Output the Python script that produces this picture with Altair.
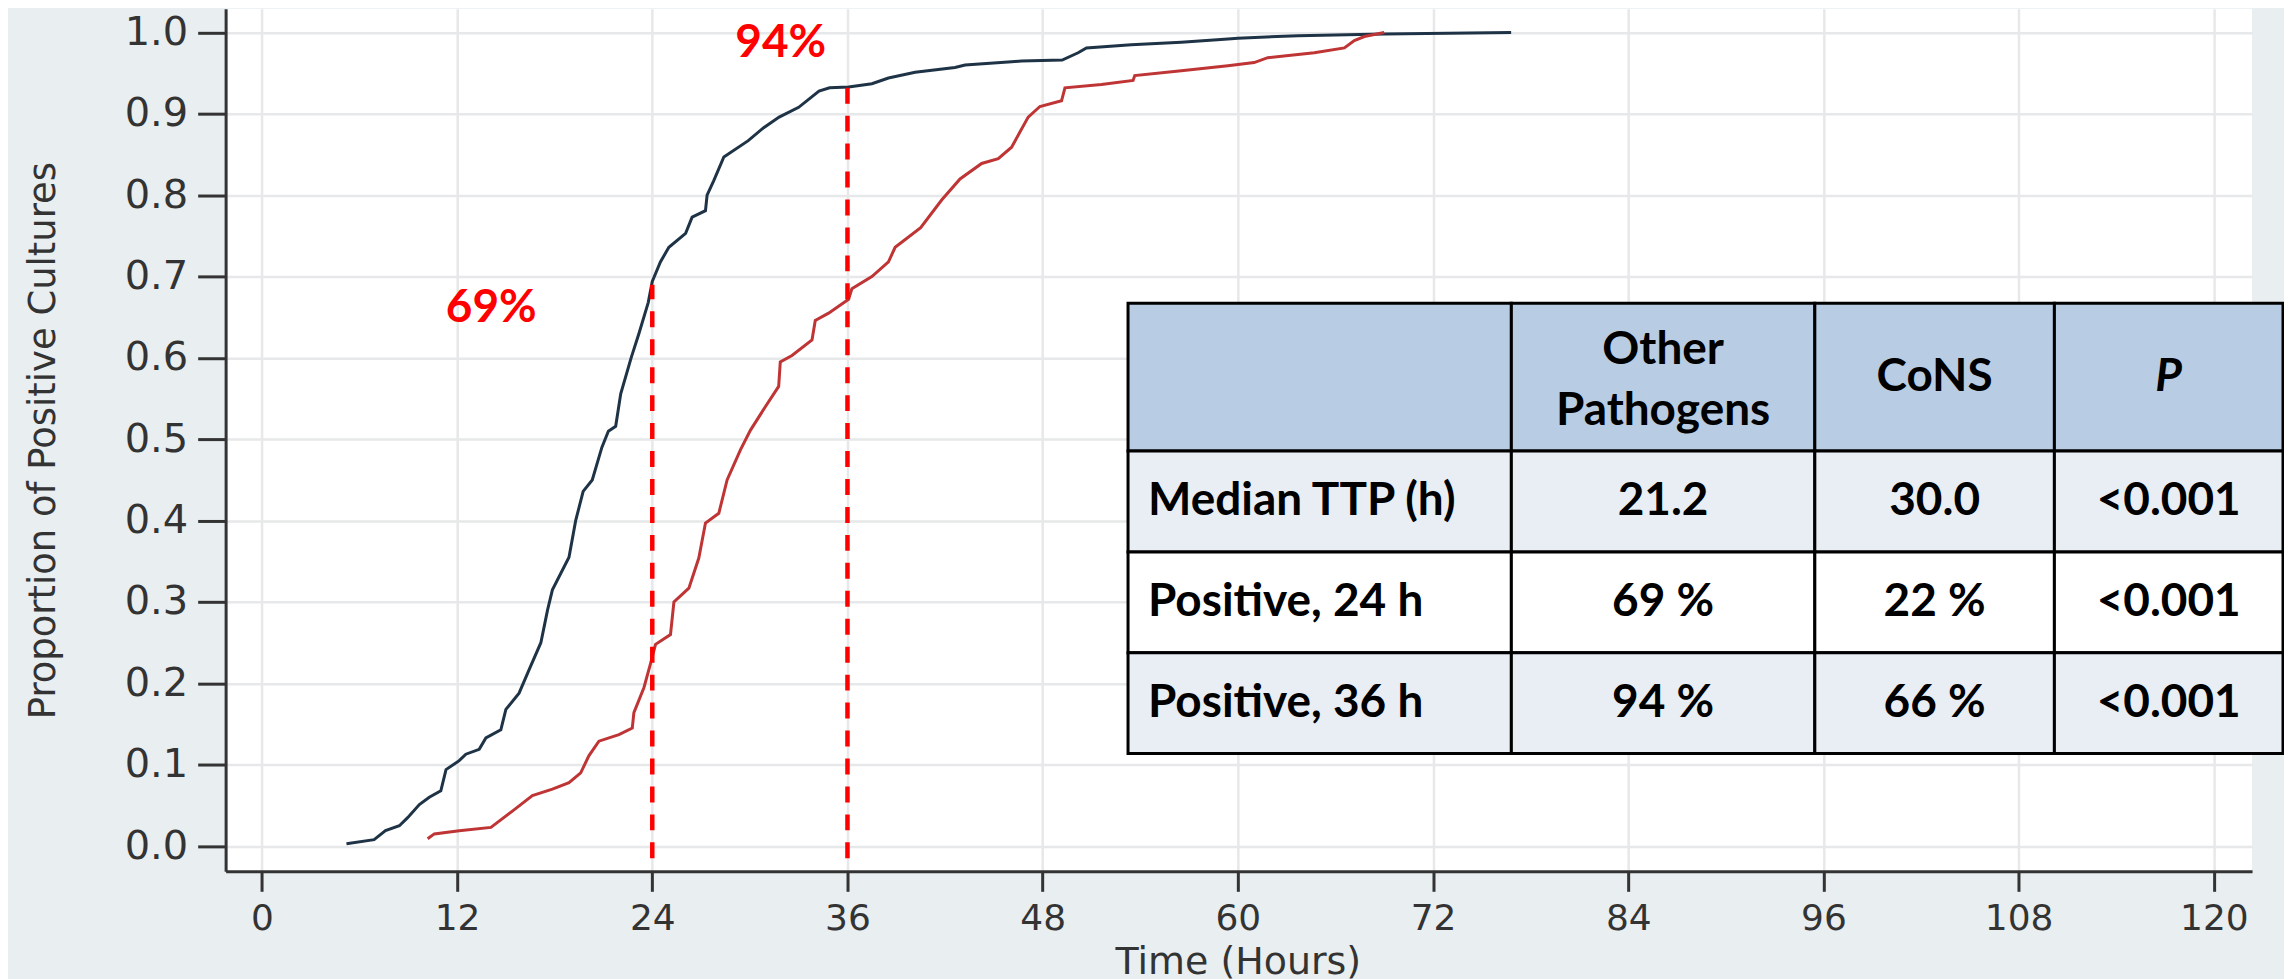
import altair as alt
import pandas as pd

# ---------------- data ----------------
series_names = ["Other Pathogens", "CoNS"]

other_h = [5.2, 6.9, 7.6, 8.45, 8.96, 9.68, 10.29, 11.0, 11.32, 12.13, 12.54, 13.36,
           13.77, 14.69, 15.0, 15.81, 16.43, 17.15, 17.56, 17.86, 18.88, 19.29, 19.75,
           20.31, 20.9, 21.3, 21.75, 22.06, 22.7, 23.18, 23.75, 24.0, 24.5, 25.02, 26.05,
           26.45, 27.27, 27.37, 27.78, 28.4, 29.9, 30.85, 31.8, 33.0, 34.25, 34.9, 36.07,
           37.5, 38.52, 40.16, 42.61, 43.23, 46.09, 46.7, 49.2, 50.18, 50.69, 53.45,
           56.52, 59.39, 60.0, 63.7, 69.0, 76.8]
other_p = [0.003, 0.008, 0.019, 0.025, 0.035, 0.051, 0.06, 0.068, 0.094, 0.105, 0.113, 0.119,
           0.133, 0.143, 0.168, 0.188, 0.217, 0.25, 0.29, 0.315, 0.355, 0.40, 0.436,
           0.45, 0.49, 0.51, 0.516, 0.556, 0.60, 0.63, 0.668, 0.694, 0.718, 0.736, 0.753,
           0.773, 0.781, 0.80, 0.818, 0.847, 0.867, 0.883, 0.896, 0.908, 0.928, 0.932, 0.933,
           0.937, 0.944, 0.951, 0.957, 0.96, 0.964, 0.965, 0.966, 0.975, 0.981, 0.985,
           0.988, 0.992, 0.993, 0.996, 0.998, 1.0]

cons_h = [10.19, 10.6, 12.13, 14.08, 15.4, 16.63, 17.86, 18.88, 19.6, 20.1, 20.72, 21.95,
          22.77, 22.87, 23.49, 23.9, 24.2, 25.12, 25.33, 26.25, 26.86, 27.27, 28.09, 28.6,
          29.42, 30.03, 30.95, 31.77, 31.87, 32.59, 33.82, 34.02, 34.84, 36.07, 36.27, 37.5,
          38.52, 38.93, 40.5, 41.79, 42.92, 44.25, 45.27, 46.09, 47.11, 47.83, 49.16, 49.37,
          51.61, 53.56, 53.66, 56.52, 59.39, 61.0, 61.84, 64.7, 66.55, 67.16, 67.78, 69.0]
cons_p = [0.009, 0.015, 0.019, 0.023, 0.043, 0.062, 0.07, 0.078, 0.09, 0.111, 0.129, 0.137,
          0.145, 0.164, 0.195, 0.225, 0.248, 0.26, 0.30, 0.317, 0.354, 0.397, 0.409, 0.45,
          0.487, 0.511, 0.54, 0.565, 0.595, 0.603, 0.622, 0.646, 0.655, 0.672, 0.685, 0.70,
          0.718, 0.736, 0.76, 0.794, 0.82, 0.839, 0.845, 0.859, 0.896, 0.909, 0.916, 0.932,
          0.936, 0.941, 0.947, 0.953, 0.959, 0.963, 0.969, 0.975, 0.981, 0.99, 0.995, 1.0]

mark_hours = [24, 36]
mark_props = [0.69, 0.933]
annot_text = ["69%", "94%"]

x_ticks = [0, 12, 24, 36, 48, 60, 72, 84, 96, 108, 120]
y_ticks = [0.0, 0.1, 0.2, 0.3, 0.4, 0.5, 0.6, 0.7, 0.8, 0.9, 1.0]

table_header = ["", "Other\nPathogens", "CoNS", "P"]
row_labels = ["Median TTP (h)", "Positive, 24 h", "Positive, 36 h"]
other_vals = ["21.2", "69 %", "94 %"]
cons_vals = ["30.0", "22 %", "66 %"]
p_vals = ["<0.001", "<0.001", "<0.001"]

# ---------------- layout ----------------
PAD_L, PAD_T, PAD_R, PAD_B = 218, 0, 32, 112
W, H = 2030, 864
X_DOM = [-2.23, 122.35]
Y_DOM = [-0.031, 1.029]
ANNOT_X = [14.1, 31.9]
ANNOT_Y = [0.661, 0.987]
RULE_BOTTOM = -0.015

COL_EDGES = [904, 1288, 1592, 1832, 2061]
ROW_EDGES = [295, 443, 544, 645, 746]
FIRST_COL_TEXT_X = 924
HEAD_FILL = "#b8cce4"
BAND_FILL = "#e9edf4"

AX_FONT = "DejaVu Sans"
TB_FONT = "Lato"
INK = "#333333"

# ---------------- frames ----------------
lines_df = pd.concat([
    pd.DataFrame({"h": other_h, "p": other_p, "series": series_names[0], "order": range(len(other_h))}),
    pd.DataFrame({"h": cons_h, "p": cons_p, "series": series_names[1], "order": range(len(cons_h))}),
])
rules_df = pd.DataFrame({"h": mark_hours, "p0": [RULE_BOTTOM] * 2, "p1": mark_props})
annot_df = pd.DataFrame({"h": ANNOT_X, "p": ANNOT_Y, "t": annot_text})

body = [row_labels, other_vals, cons_vals, p_vals]
cells = []
for r in range(4):
    for c in range(4):
        fill = HEAD_FILL if r == 0 else (BAND_FILL if r % 2 == 1 else "#ffffff")
        cells.append({"x0": COL_EDGES[c], "x1": COL_EDGES[c + 1],
                      "y0": ROW_EDGES[r], "y1": ROW_EDGES[r + 1], "fill": fill})
cells_df = pd.DataFrame(cells)

left_txt, center_txt, multi_txt, italic_txt = [], [], [], []
for r in range(4):
    cy = (ROW_EDGES[r] + ROW_EDGES[r + 1]) / 2
    for c in range(4):
        label = table_header[c] if r == 0 else body[c][r - 1]
        if not label:
            continue
        cx = (COL_EDGES[c] + COL_EDGES[c + 1]) / 2
        if c == 0:
            left_txt.append({"t": label, "tx": FIRST_COL_TEXT_X, "ty": cy})
        elif r == 0 and c == 3:
            italic_txt.append({"t": label, "tx": cx, "ty": cy})
        elif "\n" in label:
            multi_txt.append({"t": label, "tx": cx, "ty": cy})
        else:
            center_txt.append({"t": label, "tx": cx, "ty": cy})

# ---------------- chart ----------------
xs = alt.Scale(domain=X_DOM, nice=False, zero=False)
ys = alt.Scale(domain=Y_DOM, nice=False, zero=False)

x_axis = alt.Axis(values=x_ticks, title="Time (Hours)", grid=True, labelFont=AX_FONT,
                  labelFontSize=36, labelColor=INK, tickSize=20, tickWidth=3, tickColor=INK,
                  domainColor=INK, domainWidth=3, labelPadding=10, gridColor="#e6e8e9",
                  gridWidth=2.5, titleFont=AX_FONT, titleFontSize=38, titleFontWeight="normal",
                  titleColor=INK, titleX=1014, titleY=91, titleBaseline="middle",
                  titleAlign="center", labelFlush=False)
y_axis = alt.Axis(values=y_ticks, format=".1f", title="Proportion of Positive Cultures",
                  grid=True, labelFont=AX_FONT, labelFontSize=40, labelColor=INK,
                  tickSize=28, tickWidth=3, tickColor=INK, domainColor=INK, domainWidth=3,
                  labelPadding=10, gridColor="#e6e8e9", gridWidth=2.5, titleFont=AX_FONT,
                  titleFontSize=37, titleFontWeight="normal", titleColor=INK, titleX=-182,
                  titleY=432, titleAngle=270, titleBaseline="middle", titleAlign="center",
                  labelFlush=False)

lines = alt.Chart(lines_df).mark_line(strokeWidth=3).encode(
    x=alt.X("h:Q", scale=xs, axis=x_axis),
    y=alt.Y("p:Q", scale=ys, axis=y_axis),
    color=alt.Color("series:N", scale=alt.Scale(domain=series_names, range=["#1f3347", "#bf3434"]),
                    legend=None),
    order="order:Q",
)

rules = alt.Chart(rules_df).mark_rule(color="#ff0000", strokeWidth=4.5, strokeDash=[16, 12]).encode(
    x=alt.X("h:Q", scale=xs),
    y=alt.Y("p0:Q", scale=ys),
    y2="p1:Q",
)

annots = alt.Chart(annot_df).mark_text(font=TB_FONT, fontWeight="bold", fontSize=46,
                                       color="#ff0000", align="center", baseline="middle").encode(
    x=alt.X("h:Q", scale=xs),
    y=alt.Y("p:Q", scale=ys),
    text="t:N",
)

cell_rects = alt.Chart(cells_df).mark_rect(stroke="#000000", strokeWidth=3).encode(
    x=alt.X("x0:Q", scale=None, axis=None),
    x2="x1:Q",
    y=alt.Y("y0:Q", scale=None, axis=None),
    y2="y1:Q",
    fill=alt.Fill("fill:N", scale=None),
)

def table_text(rows, align, style, dy=0):
    return alt.Chart(pd.DataFrame(rows)).mark_text(
        font=TB_FONT, fontWeight="bold", fontSize=46, color="#000000", align=align,
        baseline="middle", fontStyle=style, lineBreak="\n", lineHeight=61, dy=dy).encode(
        x=alt.X("tx:Q", scale=None, axis=None),
        y=alt.Y("ty:Q", scale=None, axis=None),
        text="t:N",
    )

chart = alt.layer(
    lines, rules, annots, cell_rects,
    table_text(left_txt, "left", "normal"),
    table_text(center_txt, "center", "normal"),
    table_text(multi_txt, "center", "normal", dy=-27),
    table_text(italic_txt, "center", "italic"),
).properties(
    width=W, height=H,
    autosize=alt.AutoSizeParams(type="none"),
    padding={"left": PAD_L, "top": PAD_T, "right": PAD_R, "bottom": PAD_B},
).configure(
    background="#e9eef1",
).configure_view(
    fill="#ffffff", strokeWidth=0,
)

chart.save("out.html", embed_options={"renderer": "svg", "actions": False})
